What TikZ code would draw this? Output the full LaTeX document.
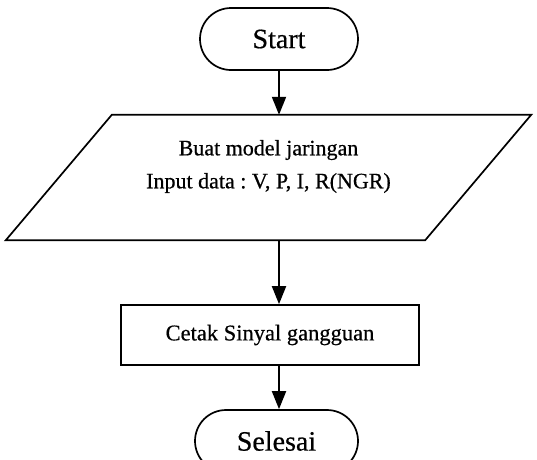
\documentclass[tikz,border=0pt]{standalone}
\usepackage{fontspec}
\setmainfont[FakeBold=0.6]{Liberation Serif}
\usetikzlibrary{arrows.meta}
\frenchspacing

\tikzset{
  terminal/.style={draw, line width=1.7pt, rounded corners=31pt, minimum width=158pt, minimum height=62pt, font=\fontsize{28}{32}\selectfont},
  process/.style={draw, line width=1.7pt, minimum width=298pt, minimum height=60pt, font=\fontsize{22.5}{26}\selectfont},
  flow/.style={line width=1.9pt, -{Triangle[length=18pt,width=14pt]}}
}

\begin{document}
\begin{tikzpicture}[x=1pt, y=1pt]
\useasboundingbox (0,0) rectangle (537,-459);

% Start
\node[terminal] (start) at (279,-39) {Start};

% Input data (parallelogram)
\node[minimum width=419pt, minimum height=125pt, inner sep=0pt] (input) at (268.5,-177.5) {};
\draw[line width=1.7pt] ([xshift=-53pt]input.south west) -- ([xshift=-53pt]input.south east)
  -- ([xshift=53pt]input.north east) -- ([xshift=53pt]input.north west) -- cycle;
\node[align=center, font=\fontsize{22}{33}\selectfont] (inputtext) at ([yshift=11pt]input.center)
  {Buat model jaringan\\Input data : V, P, I, R(NGR)};

% Cetak
\node[process] (cetak) at (270,-335) {Cetak Sinyal gangguan};

% Selesai
\node[terminal, minimum width=163pt] (selesai) at (276.5,-441) {Selesai};

% Arrows
\draw[flow] (start) -- (start |- input.north);
\draw[flow] (input.south -| start) -- (start |- cetak.north);
\draw[flow] (cetak.south -| start) -- (start |- selesai.north);

\end{tikzpicture}
\end{document}
